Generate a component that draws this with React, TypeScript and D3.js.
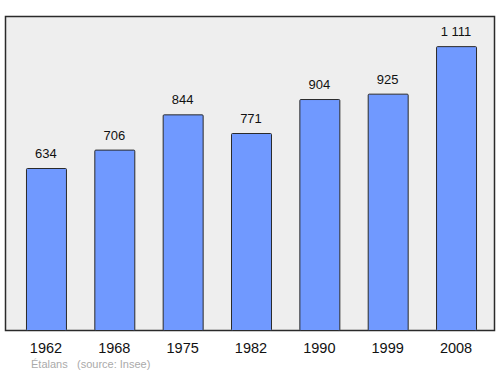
import React from "react";
import * as d3 from "d3";

const years = ["1962", "1968", "1975", "1982", "1990", "1999", "2008"];
const population = [634, 706, 844, 771, 904, 925, 1111];
const valueLabels = ["634", "706", "844", "771", "904", "925", "1 111"];
const placeName = "Étalans";
const sourceText = "(source: Insee)";

export default function App() {
  const W = 500, H = 374;
  const frame = { x0: 5, y0: 16, x1: 494, y1: 330 };
  const x = d3.scaleBand<string>().domain(years).range([11.8, 490.2]).paddingInner(0.415).paddingOuter(0.2075);
  const y = d3.scaleLinear().domain([0, 1225]).range([330, 17]);
  const font = "'Liberation Sans', Arial, sans-serif";
  return (
    <svg width={W} height={H} style={{ position: "absolute", left: 0, top: 0 }} fontFamily={font}>
      <rect x={frame.x0 + 0.5} y={frame.y0 + 0.5} width={frame.x1 - frame.x0} height={frame.y1 - frame.y0}
        fill="#eeeeee" stroke="#2a2a2a" strokeWidth={1.5} />
      {population.map((v, i) => {
        const cx = x(years[i])! + x.bandwidth() / 2;
        return (
          <g key={years[i]}>
            <rect x={x(years[i])! + 0.5} y={y(v) + 0.5} width={x.bandwidth()} height={y(0) - y(v)}
              fill="#7099ff" stroke="#2a2a2a" strokeWidth={1} rx={1} />
            <text x={cx} y={y(v) - 10} textAnchor="middle" fontSize={13} fill="#111">{valueLabels[i]}</text>
            <text x={cx} y={353} textAnchor="middle" fontSize={14.5} fill="#111">{years[i]}</text>
          </g>
        );
      })}
      <text x={31} y={368} fontSize={11} fill="#aaaaaa">{placeName}</text>
      <text x={77} y={368} fontSize={11} fill="#aaaaaa">{sourceText}</text>
    </svg>
  );
}
